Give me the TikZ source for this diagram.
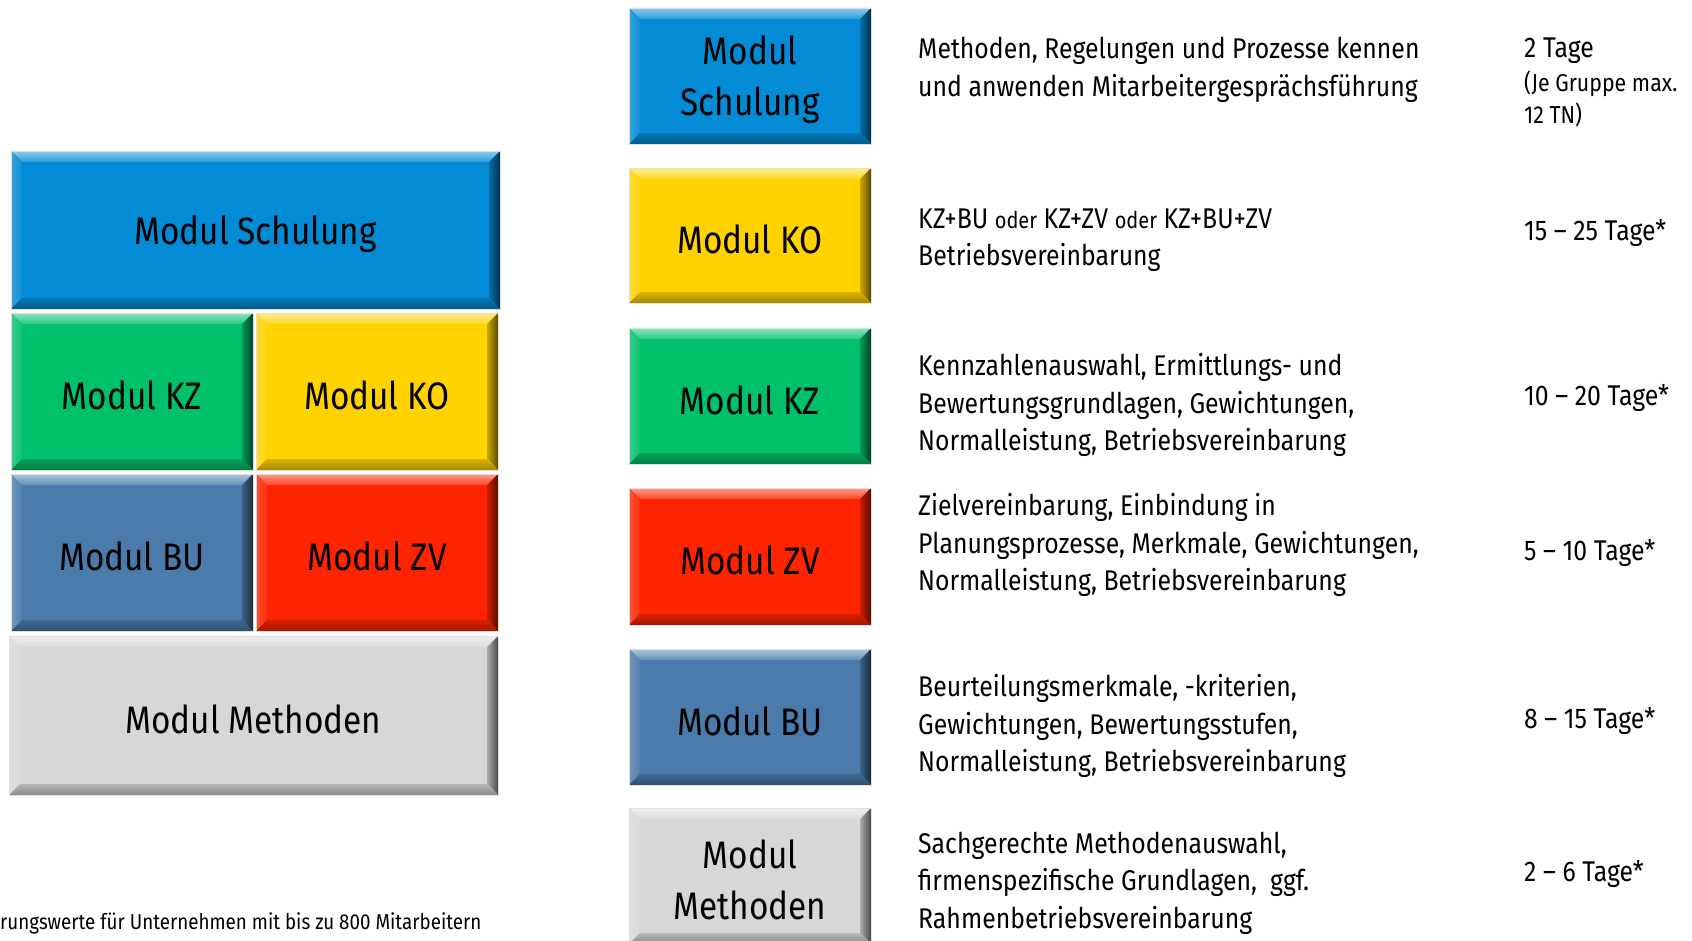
\documentclass[tikz,border=0pt]{standalone}
\usepackage{fontspec}
\setmainfont{Fira Sans}[FakeStretch=0.87]
\usetikzlibrary{calc}
\definecolor{cblue}{RGB}{3,139,213}
\definecolor{cyellow}{RGB}{255,210,0}
\definecolor{cgreen}{RGB}{0,192,106}
\definecolor{cslate}{RGB}{74,123,171}
\definecolor{cred}{RGB}{255,36,0}
\definecolor{cgrey}{RGB}{215,215,215}
\newcommand\bevbox[7]{%
  \fill[#6] (#2,#3) rectangle (#4,#5);
  \shade[top color=#6!45!white, bottom color=#6!85!white]
    (#2,#3) -- (#4,#3) -- ({#4-\bv},{#3+\bv}) -- ({#2+\bv},{#3+\bv}) -- cycle;
  \shade[left color=#6!80!white, right color=#6!95!white]
    (#2,#3) -- ({#2+\bv},{#3+\bv}) -- ({#2+\bv},{#5-\bv}) -- (#2,#5) -- cycle;
  \shade[left color=#6!80!black, right color=#6!35!black]
    (#4,#3) -- (#4,#5) -- ({#4-\bv},{#5-\bv}) -- ({#4-\bv},{#3+\bv}) -- cycle;
  \shade[top color=#6!85!black, bottom color=#6!65!black]
    (#2,#5) -- (#4,#5) -- ({#4-\bv},{#5-\bv}) -- ({#2+\bv},{#5-\bv}) -- cycle;
  \draw[white!75!gray, line width=0.8pt] (#2,#3) rectangle (#4,#5);
  \node[boxlabel] (#1) at ({(#2+#4)/2},{(#3+#5)/2+4}) {#7};
}
\def\bv{11}
\tikzset{
  boxlabel/.style={font=\fontsize{38.3}{51}\selectfont, align=center, text=black, inner sep=0pt},
  desc/.style={font=\fontsize{28.5}{37.5}\selectfont, align=left, anchor=west, inner sep=0pt},
  days/.style={font=\fontsize{28.5}{37.5}\selectfont, align=left, anchor=west, inner sep=0pt},
  note/.style={font=\fontsize{21.6}{30}\selectfont, align=left, anchor=west, inner sep=0pt},
}
\begin{document}
\begin{tikzpicture}[x=1pt,y=-1pt]
\useasboundingbox (0,0) rectangle (1692,941);
% left stack
\bevbox{lSchulung}{11}{151}{500}{309}{cblue}{Modul Schulung}
\bevbox{lKZ}{11}{313}{253}{470}{cgreen}{Modul KZ}
\bevbox{lKO}{256}{313}{498}{470}{cyellow}{Modul KO}
\bevbox{lBU}{11}{474}{253}{631}{cslate}{Modul BU}
\bevbox{lZV}{256}{474}{498}{631}{cred}{Modul ZV}
\bevbox{lMethoden}{9}{636}{498}{795}{cgrey}{Modul Methoden}
% right column
\bevbox{rSchulung}{629}{8}{871}{144}{cblue}{Modul\\Schulung}
\bevbox{rKO}{629}{168}{871}{303}{cyellow}{Modul KO}
\bevbox{rKZ}{629}{328}{871}{464}{cgreen}{Modul KZ}
\bevbox{rZV}{629}{488}{871}{625}{cred}{Modul ZV}
\bevbox{rBU}{629}{649}{871}{785}{cslate}{Modul BU}
\bevbox{rMethoden}{629}{808}{871}{944}{cgrey}{Modul\\Methoden}
% descriptions
\node[desc] (dSchulung) at (918,70) {Methoden, Regelungen und Prozesse kennen\\und anwenden Mitarbeitergesprächsführung};
\node[desc] (dKO) at (918,240) {KZ+BU {\fontsize{23}{30}\selectfont oder} KZ+ZV {\fontsize{23}{30}\selectfont oder} KZ+BU+ZV\\Betriebsvereinbarung};
\node[desc] (dKZ) at (918,405) {Kennzahlenauswahl, Ermittlungs- und\\Bewertungsgrundlagen, Gewichtungen,\\Normalleistung, Betriebsvereinbarung};
\node[desc] (dZV) at (918,545) {Zielvereinbarung, Einbindung in\\Planungsprozesse, Merkmale, Gewichtungen,\\Normalleistung, Betriebsvereinbarung};
\node[desc] (dBU) at (918,726) {Beurteilungsmerkmale, -kriterien,\\Gewichtungen, Bewertungsstufen,\\Normalleistung, Betriebsvereinbarung};
\node[desc] (dMethoden) at (918,883) {Sachgerechte Methodenauswahl,\\firmenspezifische Grundlagen,\ \ ggf.\\Rahmenbetriebsvereinbarung};
% days
\node[days] (tSchulung) at (1524,51) {2 Tage};
\node[days, font=\fontsize{24.5}{32}\selectfont] (tSchulungB) at (1524,99) {(Je Gruppe max.\\12 TN)};
\node[days] (tKO) at (1524,233) {15 – 25 Tage*};
\node[days] (tKZ) at (1524,398) {10 – 20 Tage*};
\node[days] (tZV) at (1524,553) {5 – 10 Tage*};
\node[days] (tBU) at (1524,721) {8 – 15 Tage*};
\node[days] (tMethoden) at (1524,874) {2 – 6 Tage*};
% footnote
\node[note] (fn) at (0,923) {rungswerte für Unternehmen mit bis zu 800 Mitarbeitern};
\end{tikzpicture}
\end{document}
